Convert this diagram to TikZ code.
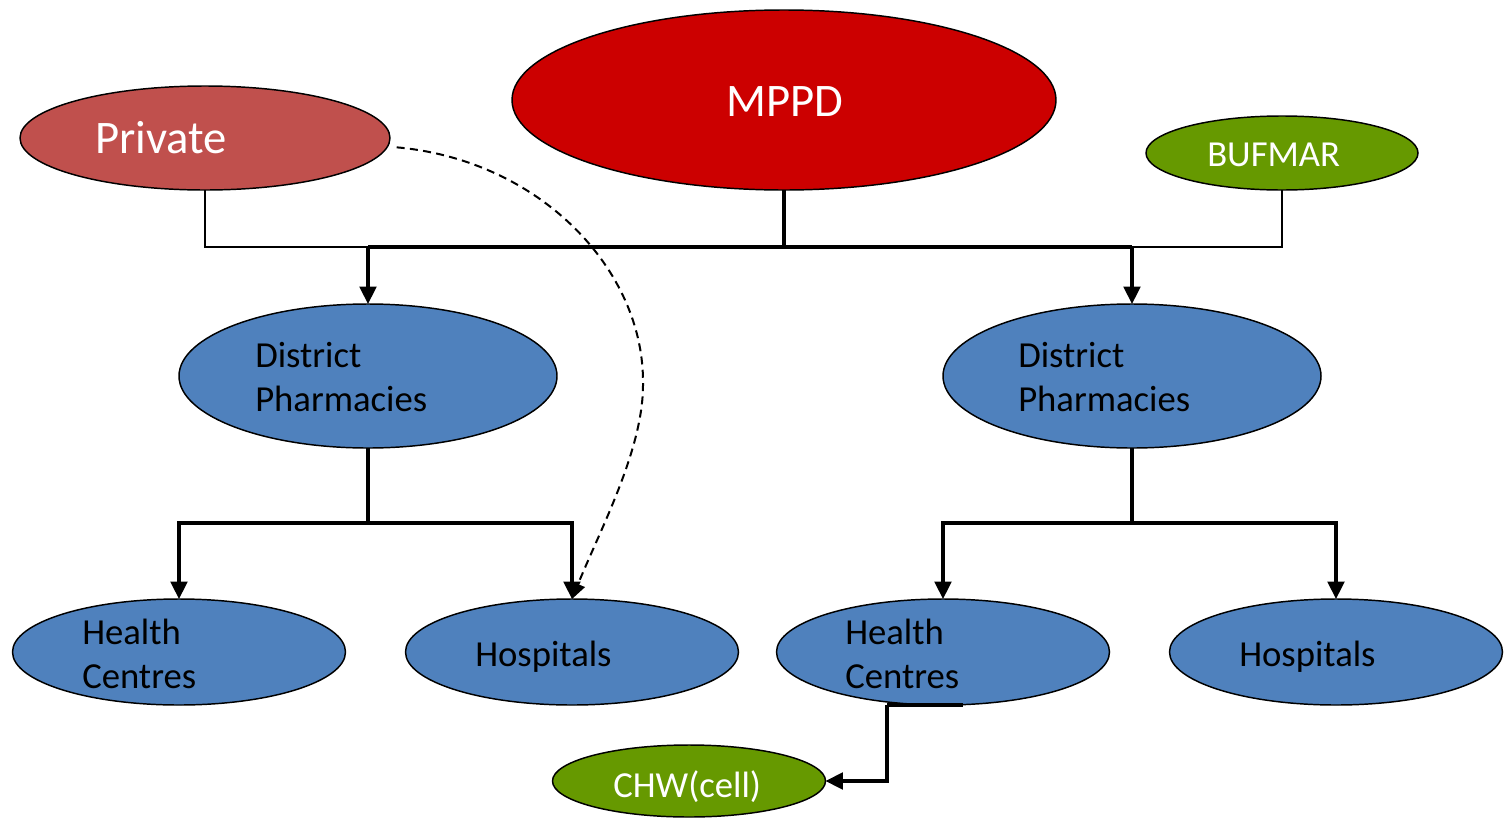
\documentclass[tikz,border=0pt]{standalone}
\usepackage{fontspec}
\setmainfont{Carlito}
\usetikzlibrary{shapes.geometric,arrows.meta}
\definecolor{privred}{HTML}{C0504D}
\definecolor{mppdred}{HTML}{CC0000}
\definecolor{bufgreen}{HTML}{669900}
\definecolor{dpblue}{HTML}{4F81BD}
\begin{document}
\begin{tikzpicture}[x=0.75pt,y=-0.75pt,
  oval/.style={ellipse,draw=black,line width=1.1pt,inner sep=0pt,outer sep=0pt},
  wlabel/.style={text=white,inner sep=0pt,anchor=base west},
  blabel/.style={text=black,inner sep=0pt,anchor=base west,align=left,font=\fontsize{27.5}{33}\selectfont},
  line/.style={draw=black,line width=2.3pt},
  arr/.style={line,-{Triangle[length=13pt,width=12.5pt]}},
  dasharr/.style={draw=black,line width=1.5pt,dash pattern=on 6pt off 4pt,-{Triangle[length=12pt,width=11pt]}}]
\useasboundingbox (0,0) rectangle (1510,818);
% ovals
\node[oval,fill=privred,minimum width=277.5pt,minimum height=78pt] (priv) at (205,138) {};
\node[oval,fill=mppdred,minimum width=408pt,minimum height=135pt] (mppd) at (784,100) {};
\node[oval,fill=bufgreen,minimum width=204pt,minimum height=55.5pt] (buf) at (1282,153) {};
\node[oval,fill=dpblue,minimum width=283.5pt,minimum height=108pt] (dpL) at (368,376) {};
\node[oval,fill=dpblue,minimum width=283.5pt,minimum height=108pt] (dpR) at (1132,376) {};
\node[oval,fill=dpblue,minimum width=249.75pt,minimum height=79.5pt] (hcL) at (179,652) {};
\node[oval,fill=dpblue,minimum width=249.75pt,minimum height=79.5pt] (hosL) at (572,652) {};
\node[oval,fill=dpblue,minimum width=249.75pt,minimum height=79.5pt] (hcR) at (943,652) {};
\node[oval,fill=dpblue,minimum width=249.75pt,minimum height=79.5pt] (hosR) at (1336,652) {};
\node[oval,fill=bufgreen,minimum width=204.75pt,minimum height=54pt] (chw) at (689,781) {};
% labels
\node[wlabel,font=\fontsize{35}{42}\selectfont] (tpriv) at (95,153) {Private};
\node[wlabel,font=\fontsize{35}{42}\selectfont] (tmppd) at (726,116) {MPPD};
\node[wlabel,font=\fontsize{27.5}{33}\selectfont] (tbuf) at (1207,166) {BUFMAR};
\node[wlabel,font=\fontsize{27.5}{33}\selectfont] (tchw) at (613,797) {CHW(cell)};
\node[blabel] (tdpL) at (255,411) {District\\Pharmacies};
\node[blabel] (tdpR) at (1018,411) {District\\Pharmacies};
\node[blabel] (thcL) at (82,688) {Health\\Centres};
\node[blabel] (thcR) at (845,688) {Health\\Centres};
\node[blabel] (thosL) at (475,666) {Hospitals};
\node[blabel] (thosR) at (1239,666) {Hospitals};
% bus coordinates
\coordinate (bus) at (0,247);
\coordinate (busL) at (0,523);
% top connectors
\draw[line,line width=1.8pt] (priv.south) |- (dpL.north |- bus);
\draw[line] (dpL.north |- bus) -- (dpR.north |- bus);
\draw[line,line width=1.8pt] (dpR.north |- bus) -| (buf.south);
\draw[line] (mppd.south) -- (mppd.south |- bus);
\draw[arr] (dpL.north |- bus) -- (dpL.north);
\draw[arr] (dpR.north |- bus) -- (dpR.north);
% left branch
\draw[line] (dpL.south) -- (dpL.south |- busL);
\draw[arr] (dpL.south |- busL) -| (hcL.north);
\draw[arr] (dpL.south |- busL) -| (hosL.north);
% right branch
\draw[line] (dpR.south) -- (dpR.south |- busL);
\draw[arr] (dpR.south |- busL) -| (hcR.north);
\draw[arr] (dpR.south |- busL) -| (hosR.north);
% CHW
\coordinate (chwturn) at (887,706);
\draw[line] ([xshift=15pt]hcR.south) -- (hcR.south -| chwturn);
\draw[arr] (hcR.south -| chwturn) |- (chw.east);
% dashed private to hospitals
\draw[dasharr] ([xshift=5pt,yshift=-7pt]priv.east) .. controls (540,160) and (645,270) .. (643,385) .. controls (643,450) and (600,530) .. (hosL.north);
\end{tikzpicture}
\end{document}
